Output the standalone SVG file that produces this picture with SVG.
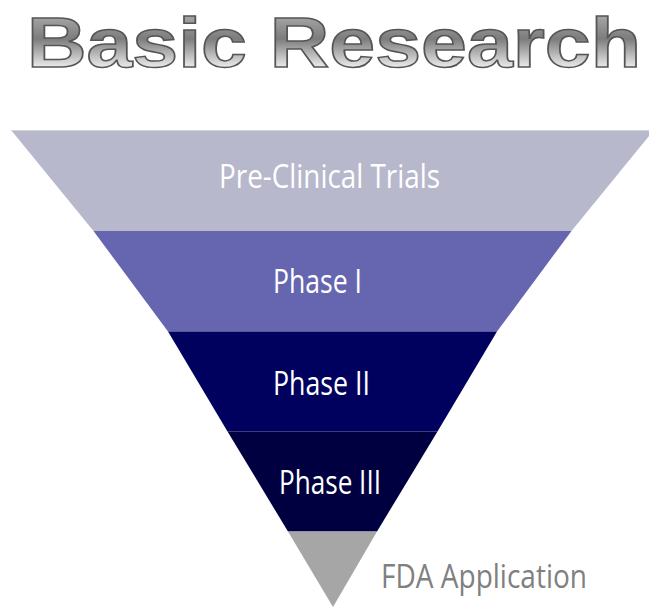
<svg xmlns="http://www.w3.org/2000/svg" width="649" height="608" viewBox="0 0 649 608">
<defs>
<linearGradient id="metal" x1="0" y1="15" x2="0" y2="68" gradientUnits="userSpaceOnUse">
<stop offset="0" stop-color="#a8a8a8"/>
<stop offset="0.45" stop-color="#7c7c7c"/>
<stop offset="1" stop-color="#eeeeee"/>
</linearGradient>
<style>
.lbl{font-family:"Open Sans","Noto Sans","DejaVu Sans",sans-serif;font-size:33px;fill:#ffffff}
.band{stroke:none}
</style>
</defs>
<rect width="649" height="608" fill="#ffffff"/>
<g id="title">
<text x="27" y="67" textLength="614" lengthAdjust="spacingAndGlyphs" font-family="'Liberation Sans',Arial,sans-serif" font-weight="bold" font-size="70" fill="url(#metal)" stroke="#555555" stroke-width="1.5">Basic Research</text>
</g>
<g id="pre-clinical">
<polygon class="band" points="11,130 654,130 571.5,231 93.5,231" fill="#b8b8cc"/>
<line x1="11" y1="130.5" x2="649" y2="130.5" stroke="#d4d4dc" stroke-width="1"/>
<text class="lbl" x="219" y="188" textLength="221" lengthAdjust="spacingAndGlyphs">Pre-Clinical Trials</text>
</g>
<g id="phase1">
<polygon class="band" points="93.5,231 571.5,231 497,331.5 168,331.5" fill="#6666b0"/>
<text class="lbl" x="273" y="293" textLength="89" lengthAdjust="spacingAndGlyphs">Phase I</text>
</g>
<g id="phase2">
<polygon class="band" points="168,331.5 497,331.5 437.5,431.5 227.5,431.5" fill="#00005e"/>
<text class="lbl" x="273" y="395" textLength="97" lengthAdjust="spacingAndGlyphs">Phase II</text>
</g>
<g id="phase3">
<polygon class="band" points="227.5,431.5 437.5,431.5 377,531.5 288,531.5" fill="#000040"/>
<text class="lbl" x="279" y="494" textLength="102" lengthAdjust="spacingAndGlyphs">Phase III</text>
</g>
<g id="fda">
<polygon class="band" points="288,531.5 377,531.5 333,607" fill="#a6a6a6"/>
<text class="lbl" x="381" y="588" textLength="206" lengthAdjust="spacingAndGlyphs" style="fill:#808080">FDA Application</text>
</g>
<g id="connectors"/>
</svg>
